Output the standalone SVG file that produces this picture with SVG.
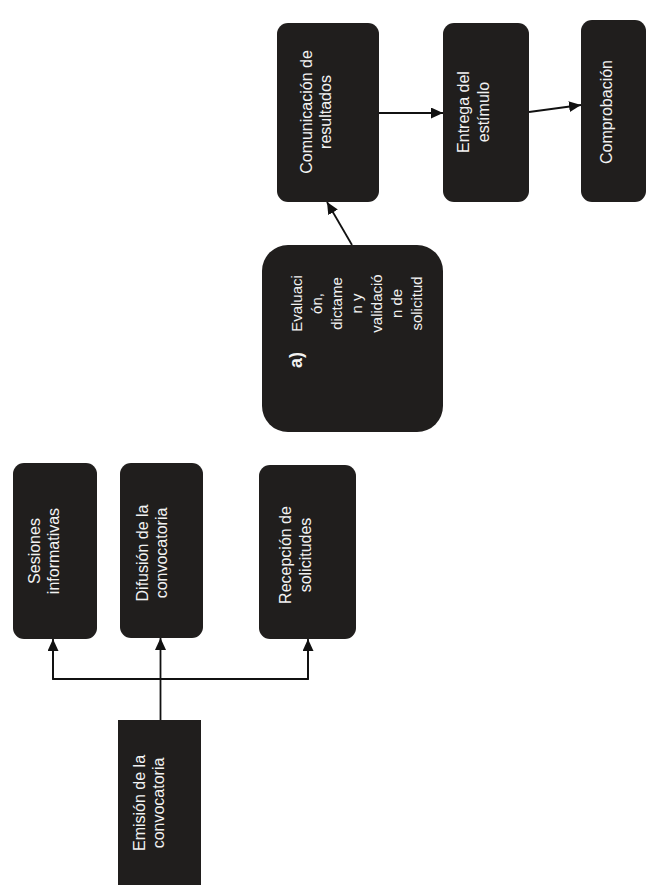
<svg xmlns="http://www.w3.org/2000/svg" width="648" height="885" viewBox="0 0 648 885">
<style>
.box{fill:#201e1d;}
.t{font-family:"Liberation Sans",Arial,sans-serif;font-size:16px;fill:#f2f2f2;text-anchor:middle;}
.s{font-size:15px;}
.b{font-size:18px;font-weight:bold;}
.c{stroke:#111;stroke-width:1.8;fill:none;}
</style>
<defs>
<marker id="ah" markerUnits="userSpaceOnUse" markerWidth="13" markerHeight="11" refX="12" refY="5.5" orient="auto">
<path d="M0,0 L12,5.5 L0,11 z" fill="#111"/>
</marker>
</defs>
<rect width="648" height="885" fill="#ffffff"/>
<g id="connectors">
<line class="c" x1="160.5" y1="720" x2="160.5" y2="638" marker-end="url(#ah)"/>
<polyline class="c" points="53,645 53,679 308,679 308,645"/>
<line class="c" x1="53" y1="679" x2="53" y2="639" marker-end="url(#ah)"/>
<line class="c" x1="308" y1="679" x2="308" y2="639" marker-end="url(#ah)"/>
<line class="c" x1="352" y1="245" x2="327" y2="202" marker-end="url(#ah)"/>
<line class="c" x1="379" y1="113" x2="443" y2="113" marker-end="url(#ah)"/>
<line class="c" x1="529" y1="112" x2="581" y2="105" marker-end="url(#ah)"/>
</g>
<g id="emision">
<rect class="box" x="118" y="720" width="83" height="170"/>
<text class="t" transform="translate(144.5,803) rotate(-90)">Emisión de la<tspan x="0" dy="19">convocatoria</tspan></text>
</g>
<g id="sesiones">
<rect class="box" x="13" y="463" width="84" height="176" rx="11"/>
<text class="t" transform="translate(40,551) rotate(-90)">Sesiones<tspan x="0" dy="19">informativas</tspan></text>
</g>
<g id="difusion">
<rect class="box" x="120" y="463" width="83" height="175" rx="11"/>
<text class="t" transform="translate(148,553) rotate(-90)">Difusión de la<tspan x="0" dy="19">convocatoria</tspan></text>
</g>
<g id="recepcion">
<rect class="box" x="259" y="465" width="97" height="174" rx="11"/>
<text class="t" transform="translate(291,555) rotate(-90)">Recepción de<tspan x="0" dy="20">solicitudes</tspan></text>
</g>
<g id="evaluacion">
<rect class="box" x="262" y="245" width="181" height="187" rx="26"/>
<text class="t b" transform="translate(302,360) rotate(-90)">a)</text>
<text class="t s" transform="translate(302,303.5) rotate(-90)">Evaluaci<tspan x="0" dy="20">ón,</tspan><tspan x="0" dy="20">dictame</tspan><tspan x="0" dy="20">n y</tspan><tspan x="0" dy="20">validació</tspan><tspan x="0" dy="20">n de</tspan><tspan x="0" dy="20">solicitud</tspan></text>
</g>
<g id="comunicacion">
<rect class="box" x="277" y="23" width="102" height="179" rx="11"/>
<text class="t" transform="translate(311.5,112) rotate(-90)">Comunicación de<tspan x="0" dy="19">resultados</tspan></text>
</g>
<g id="entrega">
<rect class="box" x="443" y="23" width="86" height="179" rx="11"/>
<text class="t" transform="translate(469,112) rotate(-90)">Entrega del<tspan x="0" dy="20">estímulo</tspan></text>
</g>
<g id="comprobacion">
<rect class="box" x="581" y="20" width="65" height="182" rx="11"/>
<text class="t" transform="translate(612,112) rotate(-90)">Comprobación</text>
</g>
</svg>
